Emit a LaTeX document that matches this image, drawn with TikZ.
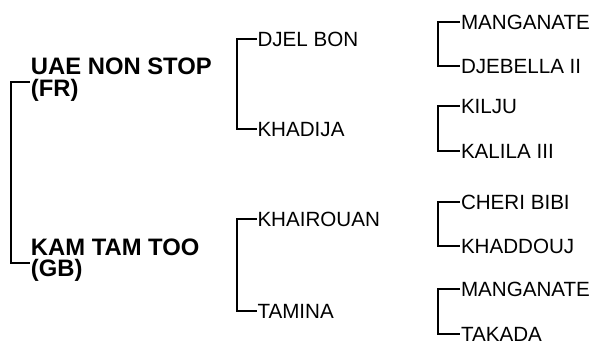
\documentclass[tikz,border=0pt]{standalone}
\usepackage{fontspec}
\setmainfont{Liberation Sans}
\begin{document}
\begin{tikzpicture}[x=0.5pt,y=-0.5pt,line width=1pt,
		horse node/.style={anchor=west,inner sep=0pt,text height=7.3pt,text depth=0pt,font=\fontsize{10.3}{12}\selectfont},
		main node/.style={anchor=base west,inner sep=0pt,align=left,font=\fontsize{11.9}{10.7}\selectfont\bfseries}]
		\useasboundingbox (0,0) rectangle (596,345);

		% parents
		\node[main node] (sire) at (30,96) {UAE NON STOP\\(FR)};
		\node[main node] (dam) at (30,276.5) {KAM TAM TOO\\(GB)};

		% grandparents
		\node[horse node] (ss) at (256.5,39.3) {DJEL BON};
		\node[horse node] (sd) at (256.5,129) {KHADIJA};
		\node[horse node] (ds) at (256.5,219.3) {KHAIROUAN};
		\node[horse node] (dd) at (256.5,311) {TAMINA};

		% great grandparents
		\node[horse node] (sss) at (460,22) {MANGANATE};
		\node[horse node] (ssd) at (460,66) {DJEBELLA II};
		\node[horse node] (sds) at (460,106) {KILJU};
		\node[horse node] (sdd) at (460,150.7) {KALILA III};
		\node[horse node] (dss) at (460,202) {CHERI BIBI};
		\node[horse node] (dsd) at (460,246) {KHADDOUJ};
		\node[horse node] (dds) at (460,289) {MANGANATE};
		\node[horse node] (ddd) at (460,334) {TAKADA};

		\draw ([yshift=7pt]sire.base west) -- ++(-19,0) |- ([yshift=7pt]dam.base west);
		\draw (ss.west) -- ++(-20,0) |- (sd.west);
		\draw (ds.west) -- ++(-20,0) |- (dd.west);
		\draw (sss.west) -- ++(-22,0) |- (ssd.west);
		\draw (sds.west) -- ++(-22,0) |- (sdd.west);
		\draw (dss.west) -- ++(-22,0) |- (dsd.west);
		\draw (dds.west) -- ++(-22,0) |- (ddd.west);
	\end{tikzpicture}
\end{document}
